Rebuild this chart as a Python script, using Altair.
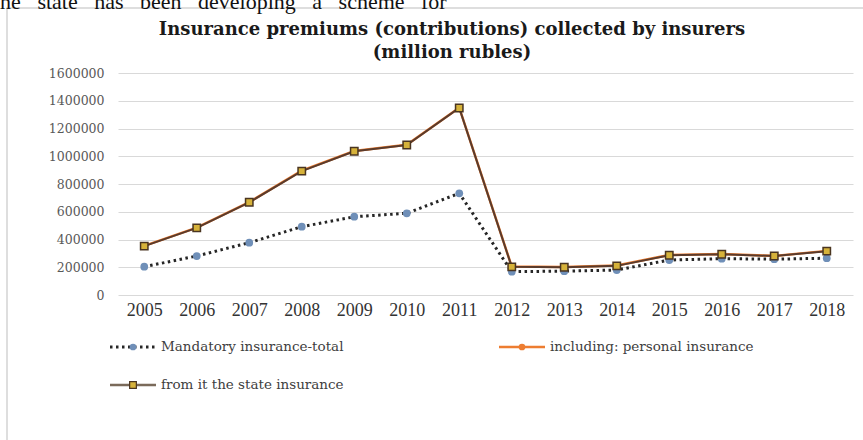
import altair as alt
import pandas as pd

years = [str(y) for y in range(2005, 2019)]
mandatory = [204000, 281000, 377000, 492000, 564000, 589000, 733000, 168000, 172000, 180000, 252000, 262000, 258000, 265000]
personal = [354000, 486000, 670000, 896000, 1038000, 1083000, 1350000, 205000, 201000, 212000, 289000, 296000, 282000, 318000]
state = [352000, 484000, 668000, 893000, 1036000, 1081000, 1348000, 203000, 200000, 210000, 287000, 294000, 281000, 316000]
series_names = ["Mandatory insurance-total", "including: personal insurance", "from it the state insurance"]
y_ticks = [0, 200000, 400000, 600000, 800000, 1000000, 1200000, 1400000, 1600000]
title_lines = ["Insurance premiums (contributions) collected by insurers", "(million rubles)"]
nb = "\u00a0\u00a0\u00a0"
body_text = [nb.join(["the", "state", "has", "been", "developing", "a", "scheme", "for"])]

SERIF = "Liberation Serif"
WIDE = "DejaVu Serif"

def series_df(vals, name):
    return pd.DataFrame({"year": years, "value": vals, "series": name})

df_m = series_df(mandatory, series_names[0])
df_p = series_df(personal, series_names[1])
df_s = series_df(state, series_names[2])

x_enc = alt.X("year:O", title=None,
              scale=alt.Scale(type="point", padding=0.5),
              axis=alt.Axis(labelAngle=0, labelFont=SERIF, labelFontSize=18,
                            labelColor="#333333", domain=False, ticks=False,
                            labelPadding=6, grid=False))
y_enc = alt.Y("value:Q", title=None,
              scale=alt.Scale(domain=[0, 1600000], nice=False),
              axis=alt.Axis(values=y_ticks, format="d", labelFont=WIDE, labelFontSize=12.5,
                            labelColor="#595959", domain=False, ticks=False, labelOverlap=False,
                            labelPadding=14, gridColor="#d9d9d9", gridWidth=1))

# frame
frame = alt.Chart(pd.DataFrame({"k": [0]})).mark_rect(
    fillOpacity=0, stroke="#d4d4d4", strokeWidth=1.5
).encode(x=alt.value(-111), x2=alt.value(770), y=alt.value(-65), y2=alt.value(390))

# body text above chart, cut by the top edge (as in the reference)
body = alt.Chart(pd.DataFrame({"t": body_text})).mark_text(
    font=SERIF, fontSize=22, align="left", baseline="alphabetic", color="#111111"
).encode(text="t:N", x=alt.value(-124), y=alt.value(-64))

# title
title_df = pd.DataFrame({"t": title_lines})
title1 = alt.Chart(title_df.iloc[[0]]).mark_text(
    font=WIDE, fontSize=18, fontWeight="bold", align="center", baseline="middle", color="#1a1a1a"
).encode(text="t:N", x=alt.value(334), y=alt.value(-43))
title2 = alt.Chart(title_df.iloc[[1]]).mark_text(
    font=WIDE, fontSize=18, fontWeight="bold", align="center", baseline="middle", color="#1a1a1a"
).encode(text="t:N", x=alt.value(334), y=alt.value(-20))

line_m = alt.Chart(df_m).mark_line(color="#262626", strokeWidth=3, strokeDash=[2.5, 3.5]).encode(x=x_enc, y=y_enc)
pts_m = alt.Chart(df_m).mark_point(shape="circle", filled=True, size=60, color="#6f8fb8", opacity=1).encode(x=x_enc, y=y_enc)

line_p = alt.Chart(df_p).mark_line(color="#ED7D31", strokeWidth=2.5).encode(x=x_enc, y=y_enc)
pts_p = alt.Chart(df_p).mark_point(shape="circle", filled=True, size=40, color="#ED7D31", opacity=1).encode(x=x_enc, y=y_enc)

line_s = alt.Chart(df_s).mark_line(color="#5a3b2c", strokeWidth=2).encode(x=x_enc, y=y_enc)
pts_s = alt.Chart(df_s).mark_point(shape="square", filled=True, size=55, fill="#d6b23a",
                                   stroke="#4a3520", strokeWidth=1.5, opacity=1).encode(x=x_enc, y=y_enc)

# manual legend
def legend_item(name, x0, y0, line_color, dash, marker_color, marker_shape, marker_stroke):
    d = pd.DataFrame({"label": [name]})
    base = alt.Chart(d)
    rule_kwargs = dict(color=line_color, strokeWidth=2.5)
    if dash:
        rule_kwargs["strokeDash"] = dash
        rule_kwargs["strokeWidth"] = 3
    r = base.mark_rule(**rule_kwargs).encode(x=alt.value(x0), x2=alt.value(x0 + 46), y=alt.value(y0))
    pk = dict(shape=marker_shape, filled=True, size=45, fill=marker_color, opacity=1)
    if marker_stroke:
        pk["stroke"] = marker_stroke
        pk["strokeWidth"] = 1.2
    p = base.mark_point(**pk).encode(x=alt.value(x0 + 23), y=alt.value(y0))
    t = base.mark_text(font=WIDE, fontSize=13.5, align="left", baseline="middle", color="#404040").encode(
        text="label:N", x=alt.value(x0 + 51), y=alt.value(y0))
    return [r, p, t]

leg = []
leg += legend_item(series_names[0], -8, 274, "#262626", [2.5, 3.5], "#6f8fb8", "circle", None)
leg += legend_item(series_names[1], 381, 274, "#ED7D31", None, "#ED7D31", "circle", None)
leg += legend_item(series_names[2], -8, 312, "#7a6a5a", None, "#d6b23a", "square", "#4a3520")

chart = alt.layer(
    frame, body, title1, title2,
    line_m, pts_m, line_p, pts_p, line_s, pts_s,
    *leg
).properties(
    width=735, height=222,
    padding={"left": 118, "top": 73, "right": 10, "bottom": 145},
    autosize=alt.AutoSizeParams(type="none"),
    background="white"
).configure_view(stroke=None)

chart.save("out.html", embed_options={"renderer": "svg", "actions": False})
